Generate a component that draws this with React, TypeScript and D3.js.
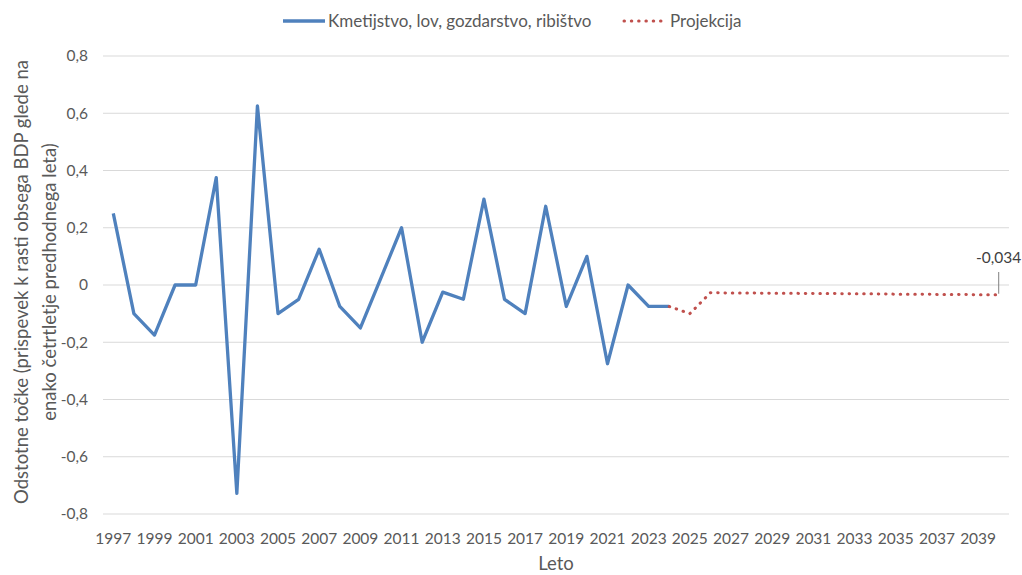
import React from "react";
import * as d3 from "d3";

const years: number[] = [];
for (let y = 1997; y <= 2040; y++) years.push(y);

const histYears = [1997,1998,1999,2000,2001,2002,2003,2004,2005,2006,2007,2008,2009,2010,2011,2012,2013,2014,2015,2016,2017,2018,2019,2020,2021,2022,2023,2024];
const histValues = [0.25,-0.10,-0.175,0,0,0.375,-0.728,0.626,-0.10,-0.05,0.125,-0.075,-0.15,0.025,0.20,-0.20,-0.025,-0.05,0.30,-0.05,-0.10,0.275,-0.075,0.10,-0.275,0,-0.075,-0.075];

const projYears = [2024,2025,2026,2027,2028,2029,2030,2031,2032,2033,2034,2035,2036,2037,2038,2039,2040];
const projValues = [-0.075,-0.10,-0.027,-0.028,-0.028,-0.029,-0.029,-0.030,-0.030,-0.031,-0.031,-0.032,-0.032,-0.033,-0.033,-0.034,-0.034];

const yTicks = [0.8,0.6,0.4,0.2,0,-0.2,-0.4,-0.6,-0.8];
const xTickYears = years.filter((y) => (y - 1997) % 2 === 0 && y <= 2039);

const seriesName = "Kmetijstvo, lov, gozdarstvo, ribištvo";
const projName = "Projekcija";
const lastLabel = "-0,034";
const yTitle1 = "Odstotne točke (prispevek k rasti obsega BDP glede na";
const yTitle2 = "enako četrtletje predhodnega leta)";
const xTitle = "Leto";

const W = 1022, H = 575;
const FONT = "Lato, 'Open Sans', sans-serif";
const BLUE = "#4F81BD";
const RED = "#C0504D";
const TXT = "#595959";

const fmt = (v: number) => (v === 0 ? "0" : v.toFixed(1).replace(".", ","));

export default function App() {
  const x = d3.scaleBand<number>().domain(years).range([103, 1009]).padding(0);
  const bw = x.bandwidth();
  const cx = (yr: number) => (x(yr) as number) + bw / 2;
  const y = d3.scaleLinear().domain([-0.8, 0.8]).range([514, 56]);

  const line = d3.line<[number, number]>().x((d) => cx(d[0])).y((d) => y(d[1]));
  const histPath = line(histYears.map((yr, i) => [yr, histValues[i]]) as [number, number][]) || "";
  const projPath = line(projYears.map((yr, i) => [yr, projValues[i]]) as [number, number][]) || "";

  const lastYr = projYears[projYears.length - 1];
  const lastV = projValues[projValues.length - 1];

  return (
    <svg width={W} height={H} style={{ position: "absolute", left: 0, top: 0, background: "#fff" }} fontFamily={FONT}>
      <rect width={W} height={H} fill="#fff" />
      {yTicks.map((t) => (
        <g key={t}>
          <line x1={103} x2={1009} y1={y(t)} y2={y(t)} stroke="#D9D9D9" strokeWidth={1} />
          <text x={88} y={y(t)} dy="0.35em" textAnchor="end" fontSize={15.5} fill={TXT}>{fmt(t)}</text>
        </g>
      ))}
      {xTickYears.map((yr) => (
        <text key={yr} x={cx(yr)} y={544} textAnchor="middle" fontSize={15.5} fill={TXT}>{yr}</text>
      ))}
      <text x={556} y={570} textAnchor="middle" fontSize={18.5} fill={TXT}>{xTitle}</text>
      <g transform="translate(28,282) rotate(-90)">
        <text x={0} y={0} textAnchor="middle" fontSize={18.5} fill={TXT}>{yTitle1}</text>
        <text x={0} y={28} textAnchor="middle" fontSize={18.5} fill={TXT}>{yTitle2}</text>
      </g>
      <path d={histPath} fill="none" stroke={BLUE} strokeWidth={3.3} strokeLinejoin="round" />
      <path d={projPath} fill="none" stroke={RED} strokeWidth={3} strokeDasharray="0.5 6.8" strokeLinecap="round" />
      <line x1={cx(lastYr)} x2={cx(lastYr)} y1={y(lastV) - 1} y2={272} stroke="#7F7F7F" strokeWidth={1} />
      <text x={cx(lastYr)} y={263} textAnchor="middle" fontSize={15.5} fill="#404040">{lastLabel}</text>
      <g>
        <line x1={283} x2={325} y1={21} y2={21} stroke={BLUE} strokeWidth={3.3} />
        <text x={328} y={21} dy="0.35em" fontSize={17} fill={TXT}>{seriesName}</text>
        <line x1={624} x2={666} y1={21} y2={21} stroke={RED} strokeWidth={3} strokeDasharray="0.5 6.8" strokeLinecap="round" />
        <text x={670} y={21} dy="0.35em" fontSize={17} fill={TXT}>{projName}</text>
      </g>
    </svg>
  );
}
